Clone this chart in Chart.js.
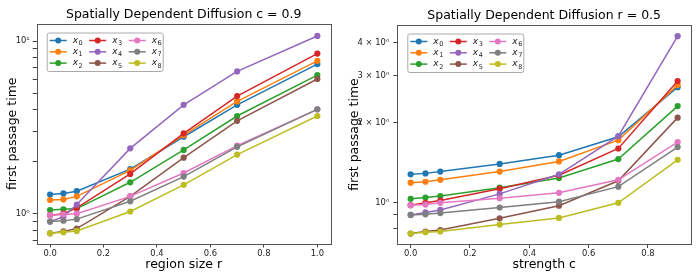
<!DOCTYPE html>
<html>
<head>
<meta charset="utf-8">
<script src="https://cdn.jsdelivr.net/npm/chart.js@4.4.0/dist/chart.umd.min.js"></script>
<style>
  body { margin: 0; background: #fff; }
  #wrap { position: relative; width: 700px; height: 279px; }
  .box { position: absolute; top: 0; height: 279px; }
</style>
</head>
<body>
<div id="wrap">
  <div class="box" style="left:0;width:345px"><canvas id="chartR" width="345" height="279"></canvas></div>
  <div class="box" style="left:340px;width:360px"><canvas id="chartC" width="360" height="279"></canvas></div>
</div>
<script>
// series names and colours (matplotlib tab10)
const seriesNames = ["x0", "x1", "x2", "x3", "x4", "x5", "x6", "x7", "x8"];
const colors = ["#1f77b4", "#ff7f0e", "#2ca02c", "#d62728", "#9467bd",
                "#8c564b", "#e377c2", "#7f7f7f", "#bcbd22"];

// left plot: c = 0.9, varying region size r
const regionSize = [0, 0.05, 0.1, 0.3, 0.5, 0.7, 1.0];
const regionX0 = [1.29, 1.31, 1.35, 1.81, 2.79, 4.27, 7.35];
const regionX1 = [1.20, 1.21, 1.26, 1.78, 2.85, 4.47, 7.68];
const regionX2 = [1.05, 1.06, 1.07, 1.52, 2.34, 3.68, 6.35];
const regionX3 = [0.98, 1.00, 1.08, 1.70, 2.92, 4.80, 8.46];
const regionX4 = [0.90, 0.96, 1.13, 2.39, 4.27, 6.67, 10.7];
const regionX5 = [0.77, 0.79, 0.82, 1.26, 2.11, 3.45, 6.03];
const regionX6 = [0.98, 0.99, 1.00, 1.26, 1.72, 2.48, 4.02];
const regionX7 = [0.90, 0.91, 0.93, 1.18, 1.64, 2.44, 4.02];
const regionX8 = [0.77, 0.78, 0.795, 1.03, 1.47, 2.20, 3.68];

// right plot: r = 0.5, varying strength c
const strength = [0, 0.05, 0.1, 0.3, 0.5, 0.7, 0.9];
const strengthX0 = [1.28, 1.29, 1.31, 1.40, 1.51, 1.77, 2.72];
const strengthX1 = [1.19, 1.20, 1.22, 1.31, 1.43, 1.72, 2.77];
const strengthX2 = [1.035, 1.047, 1.06, 1.14, 1.24, 1.46, 2.31];
const strengthX3 = [0.98, 1.00, 1.02, 1.13, 1.27, 1.60, 2.87];
const strengthX4 = [0.90, 0.92, 0.94, 1.08, 1.28, 1.78, 4.23];
const strengthX5 = [0.766, 0.78, 0.79, 0.874, 0.975, 1.21, 2.09];
const strengthX6 = [0.98, 0.985, 1.00, 1.04, 1.09, 1.22, 1.69];
const strengthX7 = [0.90, 0.905, 0.915, 0.96, 1.01, 1.15, 1.62];
const strengthX8 = [0.766, 0.775, 0.78, 0.828, 0.877, 1.00, 1.45];

// ticks
const regionTicks = [0, 0.2, 0.4, 0.6, 0.8, 1.0];
const strengthTicks = [0, 0.2, 0.4, 0.6, 0.8];
const regionYTicks = [0.7, 0.8, 0.9, 1, 2, 3, 4, 5, 6, 7, 8, 9, 10];
const regionYLabels = ["", "", "", "10\u2070", "", "", "", "", "", "", "", "", "10\u00b9"];
const strengthYTicks = [0.8, 0.9, 1, 2, 3, 4];
const strengthYLabels = ["", "", "10\u2070", "2 \u00d7 10\u2070", "3 \u00d7 10\u2070", "4 \u00d7 10\u2070"];

const FONT = "'DejaVu Sans', sans-serif";

// full box around the plot area (like matplotlib spines) + title centred on the axes
const framePlugin = {
  id: "frame",
  afterDatasetsDraw(chart) {
    const a = chart.chartArea;
    const ctx = chart.ctx;
    ctx.save();
    ctx.strokeStyle = "#555";
    ctx.lineWidth = 1;
    ctx.strokeRect(Math.round(a.left) + 0.5, Math.round(a.top) + 0.5,
      Math.round(a.right - a.left), Math.round(a.bottom - a.top));
    ctx.fillStyle = "#000";
    ctx.font = "12.5px " + FONT;
    ctx.textAlign = "center";
    ctx.textBaseline = "alphabetic";
    ctx.fillText(chart.options.plotTitle, (a.left + a.right) / 2, a.top - 6.5);
    ctx.restore();
  }
};

// matplotlib style legend, 3 columns, column major
const legendPlugin = {
  id: "mplLegend",
  afterDraw(chart) {
    const a = chart.chartArea;
    const ctx = chart.ctx;
    const bx = a.left + 10, by = a.top + 8.5, bw = 116, bh = 38.5;
    ctx.save();
    ctx.fillStyle = "rgba(255,255,255,0.8)";
    ctx.strokeStyle = "#aaa";
    ctx.lineWidth = 1;
    ctx.beginPath();
    ctx.roundRect(bx + 0.5, by + 0.5, bw, bh, 2);
    ctx.fill();
    ctx.stroke();
    chart.data.datasets.forEach((ds, i) => {
      const col = Math.floor(i / 3), row = i % 3;
      const x = bx + 3 + col * 39.5;
      const y = by + 8 + row * 11.3;
      ctx.strokeStyle = ds.borderColor;
      ctx.lineWidth = 1.5;
      ctx.beginPath();
      ctx.moveTo(x, y);
      ctx.lineTo(x + 17, y);
      ctx.stroke();
      ctx.fillStyle = ds.borderColor;
      ctx.beginPath();
      ctx.arc(x + 8.5, y, 3, 0, Math.PI * 2);
      ctx.fill();
      ctx.fillStyle = "#222";
      ctx.textBaseline = "alphabetic";
      ctx.font = "italic 9px " + FONT;
      ctx.fillText(ds.label[0], x + 23, y + 2);
      const w = ctx.measureText(ds.label[0]).width;
      ctx.font = "6.5px " + FONT;
      ctx.fillText(ds.label.slice(1), x + 23 + w + 0.5, y + 4.5);
    });
    ctx.restore();
  }
};

function makeDatasets(xs, ys) {
  return ys.map((vals, i) => ({
    label: seriesNames[i],
    data: vals.map((v, j) => ({ x: xs[j], y: v })),
    borderColor: colors[i],
    backgroundColor: colors[i],
    borderWidth: 1.5,
    pointRadius: 3.1,
    pointBorderWidth: 0,
    pointBackgroundColor: colors[i],
    tension: 0,
    order: 8 - i
  }));
}

function makeChart(id, opts) {
  return new Chart(document.getElementById(id), {
    type: "line",
    data: { datasets: makeDatasets(opts.xs, opts.ys) },
    options: {
      plotTitle: opts.title,
      responsive: false,
      animation: false,
      events: [],
      devicePixelRatio: 1,
      layout: { padding: { left: 0, right: opts.padRight, top: opts.padTop, bottom: 0 } },
      plugins: {
        legend: { display: false },
        tooltip: { enabled: false },
        title: { display: false }
      },
      scales: {
        x: {
          type: "linear",
          min: opts.xmin,
          max: opts.xmax,
          afterFit: (s) => { s.height = opts.xAxisHeight; },
          afterBuildTicks: (s) => { s.ticks = opts.xTicks.map(v => ({ value: v })); },
          ticks: {
            autoSkip: false,
            maxRotation: 0,
            padding: 1,
            color: "#222",
            font: { family: FONT, size: 8.4 },
            callback: (v) => Number(v).toFixed(1)
          },
          grid: { drawOnChartArea: false, drawTicks: true, tickLength: 4, tickColor: "#444" },
          border: { display: false },
          title: {
            display: true,
            text: opts.xTitle,
            color: "#000",
            font: { family: FONT, size: 12.5, lineHeight: 1.2 },
            padding: { top: 0, bottom: 7 }
          }
        },
        y: {
          type: "logarithmic",
          min: opts.ymin,
          max: opts.ymax,
          afterFit: (s) => { s.width = opts.yAxisWidth; },
          afterBuildTicks: (s) => { s.ticks = opts.yTicks.map(v => ({ value: v })); },
          ticks: {
            autoSkip: false,
            padding: opts.yTickPad,
            color: "#222",
            font: { family: FONT, size: 8.4 },
            callback: (v, i) => opts.yLabels[i]
          },
          grid: { drawOnChartArea: false, drawTicks: true, tickLength: 4, tickColor: "#444" },
          border: { display: false },
          title: {
            display: true,
            text: "first passage time",
            color: "#000",
            font: { family: FONT, size: 12.5, lineHeight: 1.2 },
            padding: { top: opts.yTitlePad, bottom: 0 }
          }
        }
      }
    },
    plugins: [framePlugin, legendPlugin]
  });
}

makeChart("chartR", {
  title: "Spatially Dependent Diffusion c = 0.9",
  xTitle: "region size r",
  xs: regionSize,
  ys: [regionX0, regionX1, regionX2, regionX3, regionX4, regionX5, regionX6, regionX7, regionX8],
  xmin: -0.05, xmax: 1.05, xTicks: regionTicks,
  ymin: 0.672, ymax: 12.55, yTicks: regionYTicks, yLabels: regionYLabels,
  padRight: 14.3, padTop: 24, xAxisHeight: 35.5, yAxisWidth: 36.7,
  yTickPad: 3, yTitlePad: 5
});

makeChart("chartC", {
  title: "Spatially Dependent Diffusion r = 0.5",
  xTitle: "strength c",
  xs: strength,
  ys: [strengthX0, strengthX1, strengthX2, strengthX3, strengthX4, strengthX5, strengthX6, strengthX7, strengthX8],
  xmin: -0.045, xmax: 0.945, xTicks: strengthTicks,
  ymin: 0.705, ymax: 4.66, yTicks: strengthYTicks, yLabels: strengthYLabels,
  padRight: 9, padTop: 25, xAxisHeight: 35, yAxisWidth: 57.3,
  yTickPad: 4, yTitlePad: 7
});
</script>
</body>
</html>
